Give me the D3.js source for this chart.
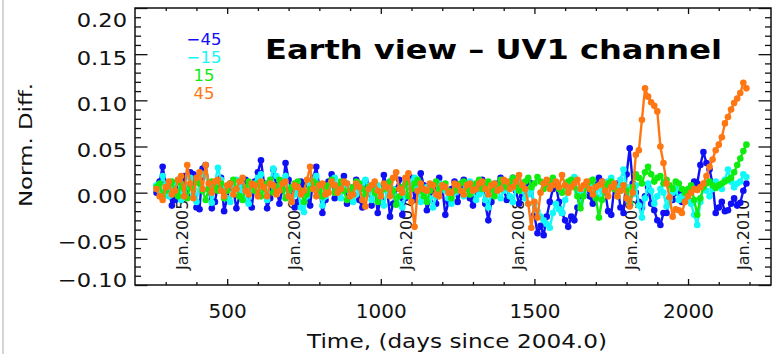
<!DOCTYPE html>
<html>
<head>
<meta charset="utf-8">
<script src="https://cdn.jsdelivr.net/npm/d3@7"></script>
<style>
  html, body { margin: 0; padding: 0; background: #fff; }
  svg { display: block; font-family: 'DejaVu Sans', Verdana, sans-serif; }
</style>
</head>
<body>
<svg id="chart" width="772" height="354"></svg>
<script>
// sample days (days since 2004.0)
const days = [
  270, 280, 290, 300, 310, 320, 330, 340, 350, 360, 370, 380, 390, 400, 410, 420, 430, 440, 450, 460,
  470, 480, 490, 500, 510, 520, 530, 540, 550, 560, 570, 580, 590, 600, 610, 620, 630, 640, 650, 660,
  670, 680, 690, 700, 710, 720, 730, 740, 750, 760, 770, 780, 790, 800, 810, 820, 830, 840, 850, 860,
  870, 880, 890, 900, 910, 920, 930, 940, 950, 960, 970, 980, 990, 1000, 1010, 1020, 1030, 1040, 1050, 1060,
  1070, 1080, 1090, 1100, 1110, 1120, 1130, 1140, 1150, 1160, 1170, 1180, 1190, 1200, 1210, 1220, 1230, 1240, 1250, 1260,
  1270, 1280, 1290, 1300, 1310, 1320, 1330, 1340, 1350, 1360, 1370, 1380, 1390, 1400, 1410, 1420, 1430, 1440, 1450, 1460,
  1470, 1480, 1490, 1500, 1510, 1520, 1530, 1540, 1550, 1560, 1570, 1580, 1590, 1600, 1610, 1620, 1630, 1640, 1650, 1660,
  1670, 1680, 1690, 1700, 1710, 1720, 1730, 1740, 1750, 1760, 1770, 1780, 1790, 1800, 1810, 1820, 1830, 1840, 1850, 1860,
  1870, 1880, 1890, 1900, 1910, 1920, 1930, 1940, 1950, 1960, 1970, 1980, 1990, 2000, 2010, 2020, 2030, 2040, 2050, 2060,
  2070, 2080, 2090, 2100, 2110, 2120, 2130, 2140, 2150, 2160, 2170, 2180, 2190];

// normalized difference, -45 deg
const diffM45 = [
  0.000, 0.012, 0.028, 0.010, 0.004, -0.014, -0.008, 0.006, 0.012, 0.018, -0.004, 0.022, 0.020, -0.016, -0.018, 0.026, 0.030, 0.004, -0.017, -0.010,
  0.008, 0.016, -0.020, -0.006, 0.010, 0.004, -0.017, -0.004, 0.006, 0.014, -0.010, -0.016, 0.012, 0.022, 0.035, 0.010, -0.017, -0.006, 0.025, 0.008,
  -0.012, 0.004, 0.032, 0.014, 0.002, -0.016, -0.010, 0.012, 0.008, -0.006, -0.014, 0.016, 0.028, 0.006, -0.022, -0.008, 0.012, 0.020, -0.006, 0.004,
  0.010, 0.018, -0.012, -0.004, 0.006, 0.014, -0.008, -0.016, 0.012, 0.004, -0.014, 0.008, -0.022, -0.006, 0.019, 0.006, -0.026, -0.012, 0.004, 0.014,
  -0.024, -0.006, 0.010, 0.016, -0.008, 0.004, 0.021, 0.008, -0.019, -0.008, 0.006, -0.012, 0.016, 0.006, -0.024, -0.010, 0.004, 0.012, -0.010, 0.002,
  0.014, 0.006, -0.006, -0.014, 0.008, 0.002, 0.014, -0.012, -0.030, -0.010, 0.002, 0.010, 0.016, 0.004, -0.008, 0.006, 0.016, 0.002, -0.012, -0.004,
  0.004, 0.012, 0.010, -0.024, -0.044, -0.036, -0.046, -0.026, -0.010, 0.004, 0.008, -0.010, -0.022, -0.030, -0.037, -0.026, -0.030, -0.016, -0.008, -0.002,
  0.006, -0.004, -0.012, 0.008, 0.016, 0.012, 0.002, -0.020, -0.024, 0.006, 0.010, -0.016, -0.022, 0.020, 0.048, 0.010, 0.000, -0.010, -0.016, -0.004,
  0.006, -0.012, -0.019, -0.030, -0.035, -0.022, -0.022, -0.006, -0.008, 0.000, 0.000, -0.010, -0.006, 0.002, 0.004, 0.012, 0.010, 0.030, 0.044, 0.032,
  0.025, 0.010, -0.022, -0.016, -0.010, -0.020, -0.019, -0.012, -0.006, -0.014, -0.011, 0.002, 0.010];

// -15 deg
const diffM15 = [
  0.008, 0.002, 0.018, 0.008, -0.004, 0.004, 0.010, 0.014, -0.008, 0.000, 0.006, 0.016, -0.002, -0.010, 0.012, 0.020, 0.018, 0.006, -0.011, 0.010,
  0.027, 0.014, 0.004, -0.006, -0.010, 0.006, 0.014, 0.008, 0.002, -0.008, -0.012, 0.004, 0.010, 0.016, 0.020, 0.004, -0.008, 0.012, 0.026, 0.018,
  0.006, 0.012, 0.018, 0.002, -0.010, -0.002, 0.004, -0.016, -0.021, -0.004, 0.008, 0.014, 0.018, 0.004, -0.014, -0.004, 0.006, 0.012, 0.016, 0.004,
  -0.006, 0.004, 0.010, 0.002, -0.010, -0.002, 0.004, 0.010, 0.014, 0.004, -0.008, 0.002, 0.008, -0.004, -0.014, 0.002, 0.012, 0.004, -0.006, -0.012,
  -0.016, -0.004, 0.008, 0.012, 0.016, 0.004, -0.010, -0.002, 0.006, -0.006, -0.016, -0.004, 0.010, 0.006, 0.002, -0.006, -0.012, 0.000, 0.008, 0.002,
  -0.004, 0.006, 0.012, 0.002, -0.008, -0.002, 0.004, -0.008, -0.016, 0.000, 0.010, 0.004, -0.006, 0.002, 0.006, -0.004, -0.010, 0.004, 0.012, 0.002,
  -0.006, -0.002, 0.004, -0.012, -0.020, -0.026, -0.030, -0.034, -0.038, -0.022, -0.012, -0.018, -0.022, -0.008, 0.002, 0.010, 0.017, 0.000, -0.012, -0.002,
  0.006, 0.010, 0.014, 0.004, -0.006, 0.002, 0.010, 0.012, 0.016, 0.008, 0.004, 0.014, 0.025, 0.006, -0.010, -0.002, 0.008, -0.014, -0.027, -0.006,
  0.010, 0.002, -0.012, -0.004, 0.004, 0.000, -0.015, -0.008, 0.000, 0.004, -0.008, -0.004, 0.002, -0.006, -0.012, -0.024, -0.035, -0.010, 0.006, 0.002,
  -0.004, 0.004, 0.012, 0.008, 0.004, 0.014, 0.025, 0.012, 0.006, 0.010, 0.012, 0.020, 0.017];

// +15 deg
const diffP15 = [
  0.006, 0.010, -0.004, 0.002, 0.008, 0.012, 0.002, -0.004, 0.010, 0.004, -0.006, 0.008, 0.004, 0.012, 0.010, 0.002, -0.008, 0.004, 0.012, 0.006,
  0.002, 0.010, -0.006, 0.002, 0.010, 0.014, 0.004, -0.004, -0.008, 0.006, 0.012, 0.008, 0.002, 0.010, -0.004, 0.004, 0.010, 0.014, 0.000, 0.006,
  0.014, 0.004, -0.006, 0.002, 0.006, 0.010, 0.012, 0.002, -0.010, -0.002, 0.004, 0.012, 0.010, 0.002, -0.004, 0.006, 0.008, 0.014, 0.000, 0.006,
  0.012, 0.002, -0.008, 0.002, 0.006, 0.012, 0.010, 0.004, -0.002, 0.006, 0.008, 0.000, -0.010, -0.002, 0.004, 0.008, 0.012, 0.002, -0.013, -0.004,
  0.006, 0.010, -0.004, 0.004, 0.010, 0.014, 0.002, -0.004, -0.010, 0.002, 0.008, 0.012, 0.002, 0.006, 0.010, 0.002, -0.006, 0.002, 0.006, 0.010,
  0.012, 0.004, -0.002, 0.006, 0.010, 0.014, 0.004, 0.008, 0.012, 0.004, -0.004, 0.006, 0.014, 0.010, 0.006, 0.012, 0.016, 0.008, 0.002, 0.008,
  0.012, 0.016, 0.006, 0.010, 0.017, 0.012, 0.004, 0.008, 0.012, 0.016, 0.010, 0.004, 0.000, 0.008, 0.012, 0.014, 0.006, -0.004, -0.017, -0.004,
  0.008, 0.012, 0.014, -0.006, -0.027, -0.008, 0.006, 0.010, 0.012, 0.004, -0.004, 0.002, 0.008, 0.002, -0.011, 0.006, 0.020, 0.016, 0.010, 0.022,
  0.028, 0.020, 0.012, 0.016, 0.018, 0.010, 0.014, 0.008, 0.004, 0.012, 0.010, 0.004, 0.000, 0.004, 0.008, -0.008, -0.024, -0.006, 0.006, 0.010,
  0.012, 0.008, 0.005, 0.008, 0.010, 0.012, 0.014, 0.016, 0.022, 0.030, 0.037, 0.045, 0.052];

// +45 deg
const diffP45 = [
  0.004, -0.004, -0.008, 0.006, 0.012, -0.002, 0.002, 0.014, 0.018, -0.004, 0.030, 0.010, -0.006, 0.016, 0.022, 0.004, 0.030, 0.010, 0.000, 0.012,
  0.014, 0.002, -0.004, 0.008, 0.010, -0.002, 0.004, 0.012, 0.016, 0.002, -0.002, 0.010, 0.008, -0.004, 0.012, 0.006, -0.004, 0.010, 0.008, -0.002,
  0.002, 0.010, 0.012, -0.004, -0.010, 0.008, 0.006, -0.002, 0.002, 0.014, 0.028, 0.004, -0.004, 0.008, 0.010, -0.002, 0.000, 0.012, 0.008, 0.000,
  0.004, 0.012, 0.010, -0.004, -0.002, 0.010, 0.006, -0.008, -0.015, 0.004, 0.008, 0.012, 0.002, -0.004, 0.010, 0.006, -0.004, 0.016, 0.022, 0.004,
  0.000, 0.016, 0.021, -0.010, -0.037, 0.002, 0.010, 0.004, 0.002, 0.010, 0.008, -0.002, -0.004, 0.008, 0.006, 0.000, 0.000, 0.010, 0.008, 0.002,
  -0.002, 0.008, 0.010, 0.002, 0.004, 0.010, 0.012, 0.004, -0.002, 0.008, 0.010, 0.002, 0.004, 0.014, 0.012, 0.004, 0.006, 0.012, 0.019, 0.008,
  0.004, -0.012, -0.038, -0.010, -0.027, 0.000, 0.010, 0.014, 0.004, 0.008, 0.012, 0.006, 0.019, 0.008, 0.000, 0.006, 0.010, 0.014, 0.004, 0.008,
  0.012, 0.004, -0.002, 0.006, 0.008, 0.012, 0.002, -0.004, 0.006, 0.010, -0.004, 0.002, 0.008, -0.006, -0.015, 0.000, 0.041, 0.046, 0.079, 0.113,
  0.104, 0.098, 0.094, 0.088, 0.050, 0.032, 0.010, -0.005, -0.026, -0.018, -0.019, -0.022, -0.010, -0.004, 0.000, 0.004, 0.003, 0.006, 0.010, 0.018,
  0.028, 0.036, 0.046, 0.052, 0.060, 0.075, 0.082, 0.090, 0.097, 0.102, 0.108, 0.119, 0.113];

const seriesNames = ['\u221245', '\u221215', '15', '45'];
const seriesColors = ['#1010f5', '#10f8f8', '#10ec10', '#ff7712'];

const xTickVals = [500, 1000, 1500, 2000];
const xTickLabels = ['500', '1000', '1500', '2000'];
const xMinorVals = [300, 400, 600, 700, 800, 900, 1100, 1200, 1300, 1400, 1600, 1700, 1800, 1900, 2100, 2200];
const yTickVals = [-0.10, -0.05, 0.00, 0.05, 0.10, 0.15, 0.20];
const yTickLabels = ['\u22120.10', '\u22120.05', '0.00', '0.05', '0.10', '0.15', '0.20'];
const yMinorVals = [-0.09, -0.08, -0.07, -0.06, -0.04, -0.03, -0.02, -0.01, 0.01, 0.02, 0.03, 0.04,
  0.06, 0.07, 0.08, 0.09, 0.11, 0.12, 0.13, 0.14, 0.16, 0.17, 0.18, 0.19];

const janDays = [366, 731, 1096, 1461, 1827, 2192];
const janLabels = ['Jan.2005', 'Jan.2006', 'Jan.2007', 'Jan.2008', 'Jan.2009', 'Jan.2010'];

const W = 772, H = 354;
const plot = { left: 135, top: 8, right: 771, bottom: 285 };

const svg = d3.select('#chart');
svg.append('rect').attr('width', W).attr('height', H).attr('fill', '#fff');
// faint border of the original screenshot
svg.append('line').attr('x1', 3).attr('x2', 3).attr('y1', 0).attr('y2', H)
  .attr('stroke', '#d4d4d4').attr('stroke-width', 2);

const x = d3.scaleLinear().domain([200, 2270]).range([plot.left, plot.right]);
const y = d3.scaleLinear().domain([-0.10, 0.20]).range([plot.bottom, plot.top]);

// stretch text horizontally like the original raster
function stretch(sel, k) {
  sel.each(function () {
    const w = this.getComputedTextLength();
    d3.select(this).attr('textLength', w * k).attr('lengthAdjust', 'spacingAndGlyphs');
  });
}

// year markers, under the data
svg.append('g').selectAll('text')
  .data(janDays)
  .join('text')
  .attr('transform', d => `translate(${x(d) + 2},270) rotate(-90)`)
  .attr('font-size', 16)
  .attr('fill', '#1a1a1a')
  .text((d, i) => janLabels[i]);

// data
svg.append('clipPath').attr('id', 'clip').append('rect')
  .attr('x', plot.left).attr('y', plot.top)
  .attr('width', plot.right - plot.left).attr('height', plot.bottom - plot.top);

const dataG = svg.append('g').attr('clip-path', 'url(#clip)');
const allSeries = [diffM45, diffM15, diffP15, diffP45];
const line = d3.line().x((d, i) => x(days[i])).y(d => y(d));

allSeries.forEach((vals, k) => {
  const g = dataG.append('g');
  g.append('path').datum(vals)
    .attr('d', line)
    .attr('fill', 'none')
    .attr('stroke', seriesColors[k])
    .attr('stroke-width', 2.4)
    .attr('stroke-linejoin', 'round');
  g.selectAll('circle').data(vals).join('circle')
    .attr('cx', (d, i) => x(days[i]))
    .attr('cy', d => y(d))
    .attr('r', 3.3)
    .attr('fill', seriesColors[k]);
});

// axes
function styleAxis(g) {
  g.select('.domain').remove();
  g.selectAll('line').attr('stroke', '#111').attr('stroke-width', 1.3);
}

svg.append('g').attr('transform', `translate(0,${plot.bottom})`)
  .call(d3.axisBottom(x).tickValues(xMinorVals).tickSize(-3).tickFormat(''))
  .call(styleAxis);
const xAx = svg.append('g').attr('transform', `translate(0,${plot.bottom})`)
  .call(d3.axisBottom(x).tickValues(xTickVals).tickSize(-6).tickFormat((d, i) => xTickLabels[i]))
  .call(styleAxis);
xAx.selectAll('text')
  .attr('y', 33).attr('dy', 0)
  .attr('font-size', 20).attr('font-family', 'DejaVu Sans').attr('fill', '#111');

svg.append('g').attr('transform', `translate(0,${plot.top})`)
  .call(d3.axisTop(x).tickValues(xMinorVals).tickSize(-3).tickFormat(''))
  .call(styleAxis);
svg.append('g').attr('transform', `translate(0,${plot.top})`)
  .call(d3.axisTop(x).tickValues(xTickVals).tickSize(-6).tickFormat(''))
  .call(styleAxis);

svg.append('g').attr('transform', `translate(${plot.left},0)`)
  .call(d3.axisLeft(y).tickValues(yMinorVals).tickSize(-6).tickFormat(''))
  .call(styleAxis);
const yAx = svg.append('g').attr('transform', `translate(${plot.left},0)`)
  .call(d3.axisLeft(y).tickValues(yTickVals).tickSize(-12.5).tickFormat((d, i) => yTickLabels[i]))
  .call(styleAxis);
yAx.selectAll('text')
  .attr('x', -8).attr('dy', (d, i) => i === 0 ? '0.05em' : (i === yTickVals.length - 1 ? '0.9em' : '0.5em'))
  .attr('font-size', 20).attr('font-family', 'DejaVu Sans').attr('fill', '#111')
  .call(stretch, 1.13);

svg.append('g').attr('transform', `translate(${plot.right},0)`)
  .call(d3.axisRight(y).tickValues(yMinorVals).tickSize(-6).tickFormat(''))
  .call(styleAxis);
svg.append('g').attr('transform', `translate(${plot.right},0)`)
  .call(d3.axisRight(y).tickValues(yTickVals).tickSize(-12.5).tickFormat(''))
  .call(styleAxis);

// frame
svg.append('rect')
  .attr('x', plot.left).attr('y', plot.top)
  .attr('width', plot.right - plot.left).attr('height', plot.bottom - plot.top)
  .attr('fill', 'none').attr('stroke', '#111').attr('stroke-width', 1.5);

// axis titles
svg.append('text')
  .attr('x', 457).attr('y', 348)
  .attr('text-anchor', 'middle')
  .attr('font-size', 19).attr('fill', '#111')
  .attr('textLength', 300).attr('lengthAdjust', 'spacingAndGlyphs')
  .text('Time, (days since 2004.0)');

svg.append('text')
  .attr('transform', 'translate(32,145) rotate(-90)')
  .attr('text-anchor', 'middle')
  .attr('font-size', 18).attr('fill', '#111')
  .attr('textLength', 124).attr('lengthAdjust', 'spacingAndGlyphs')
  .text('Norm. Diff.');

// title
svg.append('text')
  .attr('x', 265).attr('y', 59)
  .attr('font-size', 27).attr('font-weight', 'bold').attr('fill', '#000')
  .attr('textLength', 457).attr('lengthAdjust', 'spacingAndGlyphs')
  .text('Earth view \u2013 UV1 channel');

// legend
const legendY = [45, 63, 81, 99];
svg.append('g').selectAll('text')
  .data(seriesNames)
  .join('text')
  .attr('x', 204).attr('y', (d, i) => legendY[i])
  .attr('text-anchor', 'middle')
  .attr('font-size', 16.5)
  .attr('fill', (d, i) => seriesColors[i])
  .text(d => d);
</script>
</body>
</html>
